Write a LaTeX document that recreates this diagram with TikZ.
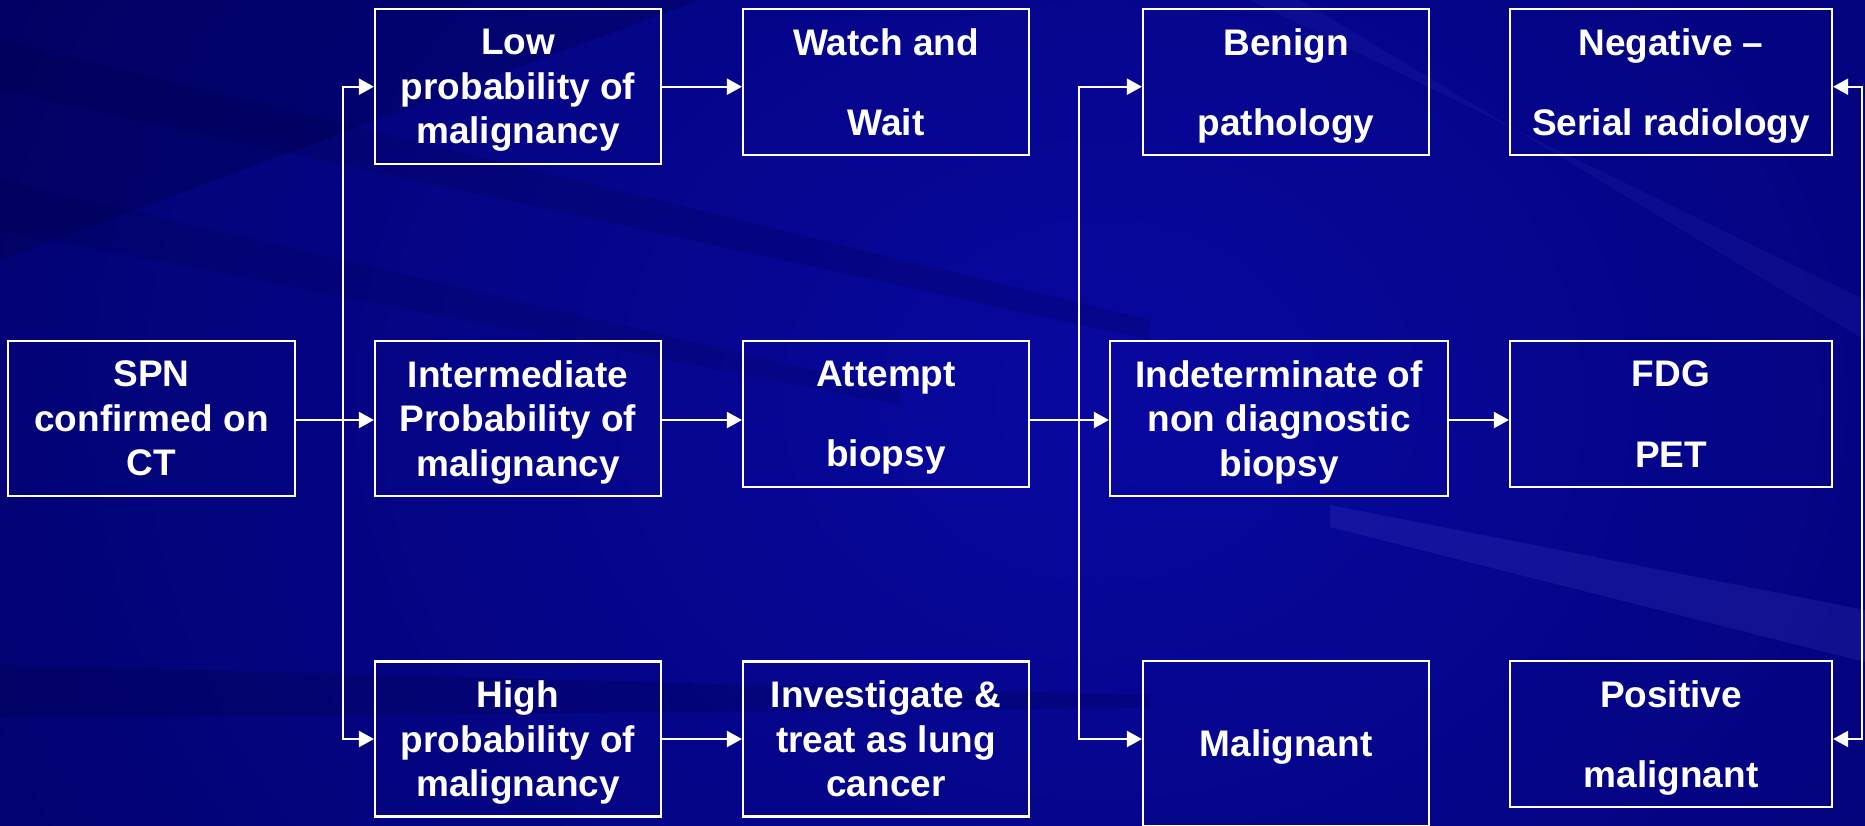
\documentclass[tikz,border=0pt]{standalone}
\usepackage{fontspec}
\setmainfont{Liberation Sans}
\usetikzlibrary{arrows.meta,calc}
\definecolor{slidebg}{RGB}{8,8,160}
\definecolor{slideouter}{RGB}{0,0,95}
\definecolor{slidedark}{RGB}{0,0,60}
\definecolor{slidelite}{RGB}{80,80,210}

\begin{document}
\begin{tikzpicture}[x=1pt, y=-1pt, >={Triangle[length=15pt,width=16pt]},
  line width=2.2pt,
  box/.style={draw=white, text=white, align=center, inner sep=0pt, text depth=0pt,
              font=\fontsize{37}{44.5}\selectfont\bfseries},
  stage/.style={box, minimum width=286pt, minimum height=155pt},
  result/.style={box, minimum width=286pt, minimum height=146pt},
  link/.style={draw=white, ->}]
\useasboundingbox (0,0) rectangle (1865,825);
% slide background
\begin{scope}
\clip (0,0) rectangle (1865,825);
\shade[inner color=slidebg, outer color=slideouter] (-600,-1000) rectangle (2800,1800);
\fill[slidedark, opacity=.25] (0,0) -- (700,0) -- (0,260) -- cycle;
\fill[slidedark, opacity=.18] (0,40) -- (1150,320) -- (1150,340) -- (0,90) -- cycle;
\fill[slidedark, opacity=.15] (0,180) -- (900,390) -- (900,405) -- (0,230) -- cycle;
\fill[slidedark, opacity=.22] (0,665) -- (1150,695) -- (1150,708) -- (0,718) -- cycle;
\fill[slidelite, opacity=.18] (1330,505) -- (1865,610) -- (1865,662) -- (1330,527) -- cycle;
\fill[slidelite, opacity=.10] (1250,0) -- (1865,300) -- (1865,340) -- (1300,0) -- cycle;
\end{scope}

% first column
\node[stage, minimum width=287pt] (spn) at (151.5,418.5) {SPN\\confirmed on\\CT};
% probability column
\node[stage] (low)  at (518,86.7)  {Low\\probability of\\malignancy};
\node[stage] (mid)  at (518,418.5) {Intermediate\\Probability of\\malignancy};
\node[stage] (high) at (518,739)   {High\\probability of\\malignancy};
% actions
\node[result] (watch)   at (886,82.2)  {Watch and\\[36pt]Wait};
\node[result] (attempt) at (886,413.7) {Attempt\\[36pt]biopsy};
\node[stage]  (invest)  at (886,739)   {Investigate \&\\treat as lung\\cancer};
% biopsy outcome
\node[result] (benign) at (1286,82.2)  {Benign\\[36pt]pathology};
\node[stage, minimum width=338pt] (indet) at (1279,418.5) {Indeterminate of\\non diagnostic\\biopsy};
\node[result, minimum height=165pt] (malig) at (1286,743.5) {Malignant};
% PET outcome
\node[result, minimum width=322pt] (neg) at (1671,82.2) {Negative –\\[36pt]Serial radiology};
\node[result, minimum width=322pt] (fdg) at (1671,414)  {FDG\\[36pt]PET};
\node[result, minimum width=322pt] (pos) at (1671,734)  {Positive\\[36pt]malignant};

\coordinate (j1) at (343,420);
\coordinate (j2) at (1079,420);
\coordinate (j3) at (1862,420);

\draw[link] (spn.east |- j1) -- (mid.west |- j1);
\draw[link] (j1) |- (low.west);
\draw[link] (j1) |- (high.west);
\draw[link] (low.east) -- (watch.west |- low.east);
\draw[link] (mid.east |- j1) -- (attempt.west |- j1);
\draw[link] (high.east) -- (invest.west);
\draw[link] (attempt.east |- j2) -- (indet.west |- j2);
\draw[link] (j2) |- (benign.west |- low.west);
\draw[link] (j2) |- (malig.west |- high.west);
\draw[link] (indet.east |- j2) -- (fdg.west |- j2);
\draw[link] (j3) |- (neg.east |- low.west);
\draw[link] (j3) |- (pos.east |- high.west);
\end{tikzpicture}
\end{document}
